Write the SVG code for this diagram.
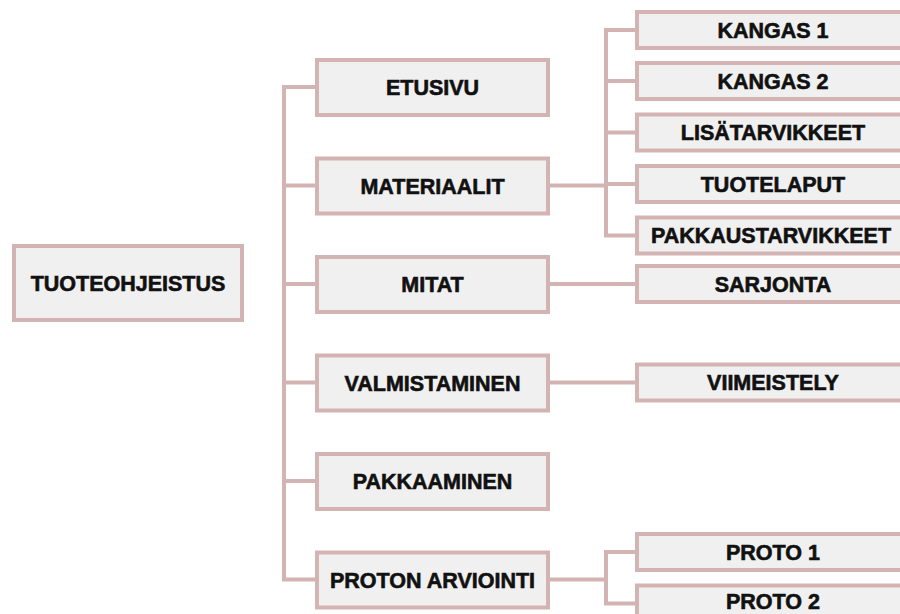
<svg xmlns="http://www.w3.org/2000/svg" width="900" height="614" viewBox="0 0 900 614">
  <style>
    .box { fill: #f0f0f0; stroke: #d4b3b3; stroke-width: 4; }
    .lbl { font-family: "Liberation Sans", Arial, sans-serif; font-weight: bold; font-size: 21.5px; fill: #111; stroke: #111; stroke-width: 0.6; text-anchor: middle; }
    .conn { fill: none; stroke: #d4b3b3; stroke-width: 4; }
  </style>
  <rect width="900" height="614" fill="#ffffff"/>

  <!-- connectors -->
  <g id="connectors">
    <!-- trunk to level-1 nodes -->
    <path class="conn" d="M317,87 H284 V579.5 H317 M284,185.5 H317 M284,284 H317 M284,382.5 H317 M284,481 H317"/>
    <!-- MATERIAALIT children -->
    <path class="conn" d="M548,185.5 H606 M637,30 H606 V235.5 H637 M606,81 H637 M606,132.5 H637 M606,184 H637"/>
    <!-- MITAT -> SARJONTA -->
    <path class="conn" d="M548,284 H637"/>
    <!-- VALMISTAMINEN -> VIIMEISTELY -->
    <path class="conn" d="M548,382.5 H637"/>
    <!-- PROTON ARVIOINTI children -->
    <path class="conn" d="M548,579.5 H606 M637,552 H606 V603.5 H637"/>
  </g>

  <!-- root -->
  <g id="n-tuoteohjeistus">
    <rect class="box" x="14" y="246" width="228" height="74"/>
    <text class="lbl" x="128" y="291">TUOTEOHJEISTUS</text>
  </g>

  <!-- level 1 -->
  <g id="n-etusivu">
    <rect class="box" x="317" y="60" width="231" height="55"/>
    <text class="lbl" x="432.5" y="95">ETUSIVU</text>
  </g>
  <g id="n-materiaalit">
    <rect class="box" x="317" y="158.5" width="231" height="55"/>
    <text class="lbl" x="432.5" y="193.5">MATERIAALIT</text>
  </g>
  <g id="n-mitat">
    <rect class="box" x="317" y="257" width="231" height="55"/>
    <text class="lbl" x="432.5" y="292">MITAT</text>
  </g>
  <g id="n-valmistaminen">
    <rect class="box" x="317" y="355.5" width="231" height="55"/>
    <text class="lbl" x="432.5" y="390.5">VALMISTAMINEN</text>
  </g>
  <g id="n-pakkaaminen">
    <rect class="box" x="317" y="454" width="231" height="55"/>
    <text class="lbl" x="432.5" y="489">PAKKAAMINEN</text>
  </g>
  <g id="n-proton-arviointi">
    <rect class="box" x="317" y="552.5" width="231" height="55"/>
    <text class="lbl" x="432.5" y="587.5">PROTON ARVIOINTI</text>
  </g>

  <!-- level 2 -->
  <g id="n-kangas1">
    <rect class="box" x="637" y="12" width="272" height="36"/>
    <text class="lbl" x="773" y="37.5">KANGAS 1</text>
  </g>
  <g id="n-kangas2">
    <rect class="box" x="637" y="63" width="272" height="36"/>
    <text class="lbl" x="773" y="88.5">KANGAS 2</text>
  </g>
  <g id="n-lisatarvikkeet">
    <rect class="box" x="637" y="114.5" width="272" height="36"/>
    <text class="lbl" x="773" y="140">LISÄTARVIKKEET</text>
  </g>
  <g id="n-tuotelaput">
    <rect class="box" x="637" y="166" width="272" height="36"/>
    <text class="lbl" x="773" y="191.5">TUOTELAPUT</text>
  </g>
  <g id="n-pakkaustarvikkeet">
    <rect class="box" x="637" y="217.5" width="272" height="36"/>
    <text class="lbl" x="771" y="243">PAKKAUSTARVIKKEET</text>
  </g>
  <g id="n-sarjonta">
    <rect class="box" x="637" y="266" width="272" height="36"/>
    <text class="lbl" x="773" y="291.5">SARJONTA</text>
  </g>
  <g id="n-viimeistely">
    <rect class="box" x="637" y="364.5" width="272" height="36"/>
    <text class="lbl" x="773" y="390">VIIMEISTELY</text>
  </g>
  <g id="n-proto1">
    <rect class="box" x="637" y="534" width="272" height="36"/>
    <text class="lbl" x="773" y="559.5">PROTO 1</text>
  </g>
  <g id="n-proto2">
    <rect class="box" x="637" y="585.5" width="272" height="36"/>
    <text class="lbl" x="773" y="609">PROTO 2</text>
  </g>
</svg>
